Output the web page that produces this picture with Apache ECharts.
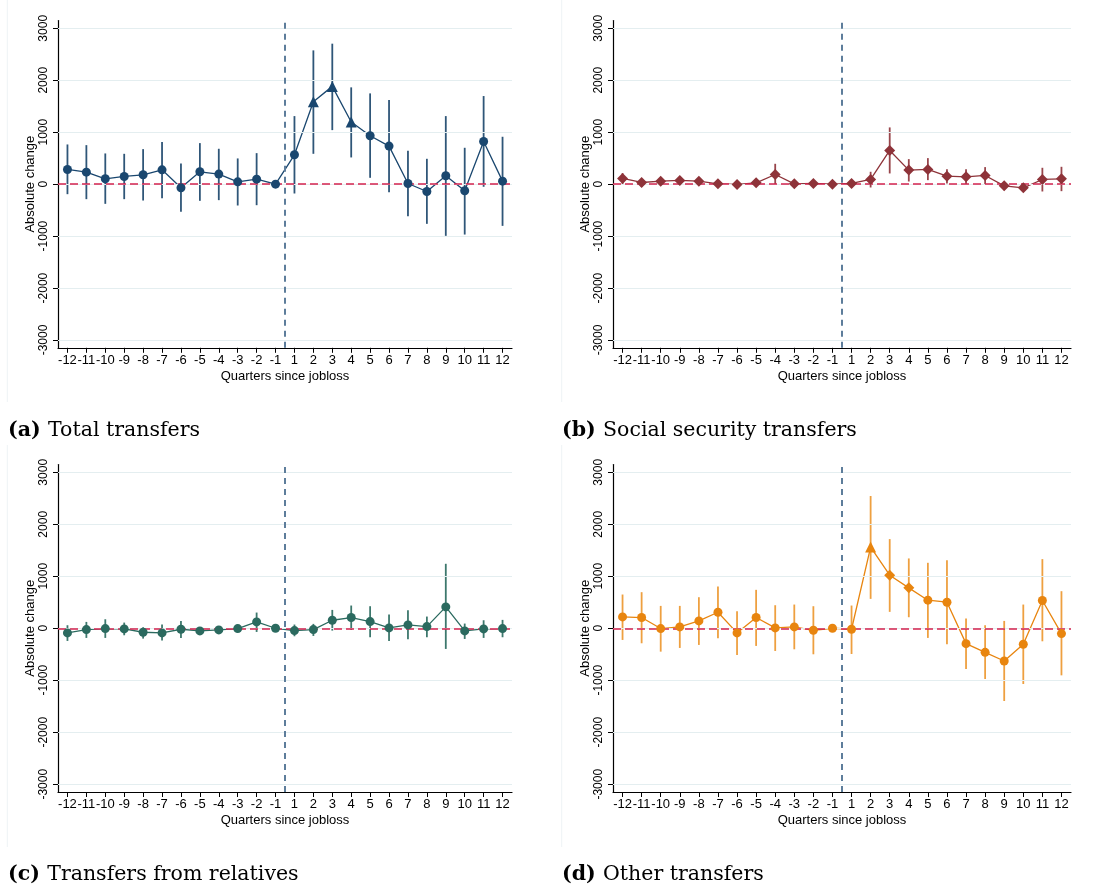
<!DOCTYPE html>
<html><head><meta charset="utf-8">
<script src="https://cdn.jsdelivr.net/npm/echarts@6/dist/echarts.min.js"></script>
<style>html,body{margin:0;padding:0;background:#fff}#c{width:1094px;height:889px}</style>
</head><body><div id="c"></div>
<script>
// ---- data ----
const quarters = ['-12','-11','-10','-9','-8','-7','-6','-5','-4','-3','-2','-1','1','2','3','4','5','6','7','8','9','10','11','12'];
const yTicks = [-3000,-2000,-1000,0,1000,2000,3000];

const estA = [283,231,103,148,180,276,-71,238,193,45,96,0,565,1586,1882,1195,931,732,13,-141,161,-128,822,58];
const loA  = [-193,-289,-379,-289,-315,-270,-533,-321,-308,-411,-405,null,-180,584,1040,514,122,-154,-617,-764,-995,-970,-51,-803];
const hiA  = [764,751,591,584,674,809,398,790,681,495,597,null,1310,2575,2704,1863,1747,1618,642,488,1310,700,1696,912];

const estB = [110,32,58,71,58,6,-6,26,186,6,13,0,13,90,649,270,283,154,141,167,-32,-71,90,103];
const loB  = [0,-51,-13,0,-19,-38,-64,-26,0,-38,-32,null,-64,-64,206,51,77,13,0,0,-116,-141,-141,-135];
const hiB  = [212,90,128,128,128,58,45,77,392,51,51,null,90,238,1092,482,501,289,289,328,39,0,315,334];

const estC = [-90,-26,-6,-13,-77,-90,-19,-51,-32,-6,122,0,-45,-26,154,206,128,6,64,32,411,-51,-13,-6];
const loC  = [-244,-186,-186,-135,-199,-238,-186,-116,-84,-71,-71,null,-154,-148,-45,-32,-173,-244,-212,-173,-398,-206,-186,-173];
const hiC  = [58,122,173,109,19,71,141,13,26,51,302,null,71,84,353,437,424,263,347,225,1240,90,154,161];

const estD = [218,206,-6,26,141,308,-90,206,6,26,-39,0,-19,1561,1021,777,540,501,-296,-463,-630,-308,533,-103];
const loD  = [-225,-289,-450,-379,-321,-193,-514,-340,-437,-405,-501,null,-495,565,315,212,-186,-308,-784,-976,-1400,-1073,-251,-906];
const hiD  = [649,694,430,430,597,803,328,739,443,456,424,null,437,2544,1715,1343,1259,1310,186,58,141,456,1330,713];

// marker shape per point
const C='circle', T='triangle', D='diamond';
const shapesA = [C,C,C,C,C,C,C,C,C,C,C,C,C,T,T,T,C,C,C,C,C,C,C,C];
const shapesB = quarters.map(() => D);
const shapesC = quarters.map(() => C);
const shapesD = [C,C,C,C,C,C,C,C,C,C,C,C,C,T,D,D,C,C,C,C,C,C,C,C];

const captionTags  = ['(a)','(b)','(c)','(d)'];
const captionTexts = ['Total transfers','Social security transfers','Transfers from relatives','Other transfers'];

// ---- layout / style ----
const panels = [
  {est:estA, lo:loA, hi:hiA, shapes:shapesA, color:'#1a476f', ci:'#2f5678', grid:{left:58, top:20.5, width:454, height:327.3}, cap:[8,432]},
  {est:estB, lo:loB, hi:hiB, shapes:shapesB, color:'#8e3339', ci:'#98454b', grid:{left:613, top:20.5, width:458, height:327.3}, cap:[562,432]},
  {est:estC, lo:loC, hi:hiC, shapes:shapesC, color:'#2b6a5f', ci:'#3d786d', grid:{left:58, top:464.5, width:454, height:327.5}, cap:[8,876]},
  {est:estD, lo:loD, hi:hiD, shapes:shapesD, color:'#e8850f', ci:'#eea040', grid:{left:613, top:464.5, width:458, height:327.5}, cap:[562,876]}
];
const idx = quarters.map((q,k)=>k);
const sans = 'Liberation Sans, Arial, sans-serif';
const symSize = {circle:9, triangle:11, diamond:11};

const grids=[], xAxes=[], yAxes=[], series=[], graphics=[];
panels.forEach((p,i)=>{
  grids.push(Object.assign({containLabel:false}, p.grid));
  xAxes.push({
    type:'value', gridIndex:i, min:-0.5, max:23.5,
    axisLine:{show:true, onZero:false, lineStyle:{color:'#000', width:1.2}},
    axisTick:{show:true, customValues:idx, length:5, lineStyle:{color:'#000', width:1}},
    axisLabel:{customValues:idx, formatter:v=>quarters[Math.round(v)], fontSize:13, color:'#000', margin:6, fontFamily:sans},
    splitLine:{show:false},
    name:'Quarters since jobloss', nameLocation:'middle', nameGap:22,
    nameTextStyle:{fontSize:13, color:'#000', fontFamily:sans}
  });
  yAxes.push({
    type:'value', gridIndex:i, min:-3150, max:3150,
    axisLine:{show:true, onZero:false, lineStyle:{color:'#000', width:1.2}},
    axisTick:{show:true, customValues:yTicks, length:5, lineStyle:{color:'#000', width:1}},
    axisLabel:{customValues:yTicks, formatter:v=>String(Math.round(v)), rotate:90, fontSize:12, color:'#000', margin:8, fontFamily:sans},
    splitLine:{show:false},
    name:'Absolute change', nameLocation:'middle', nameRotate:90, nameGap:21,
    nameTextStyle:{fontSize:13, color:'#000', fontFamily:sans}
  });
  // gridlines
  series.push({
    type:'line', xAxisIndex:i, yAxisIndex:i, data:[[0,0]], showSymbol:false, lineStyle:{opacity:0}, silent:true, z:1,
    markLine:{silent:true, symbol:'none', label:{show:false}, animation:false,
      lineStyle:{color:'#e4eef0', width:1.2, type:'solid'},
      data: yTicks.map(v=>({yAxis:v}))}
  });
  // reference lines
  series.push({
    type:'line', xAxisIndex:i, yAxisIndex:i, data:[[0,0]], showSymbol:false, lineStyle:{opacity:0}, silent:true, z:2,
    markLine:{silent:true, symbol:'none', label:{show:false}, animation:false,
      data:[
        {yAxis:0, lineStyle:{color:'#d4234f', width:1.5, type:[8,4]}},
        {xAxis:11.5, lineStyle:{color:'#5d7d9b', width:2, type:[6,5]}}
      ]}
  });
  // error bars
  const ciData = idx.filter(k=>p.lo[k]!=null).map(k=>[k, p.lo[k], p.hi[k]]);
  series.push({
    type:'custom', xAxisIndex:i, yAxisIndex:i, z:3, silent:true,
    encode:{x:0, y:[1,2]},
    data:ciData,
    renderItem:(params, api)=>{
      const a = api.coord([api.value(0), api.value(1)]);
      const b = api.coord([api.value(0), api.value(2)]);
      return {type:'line', shape:{x1:a[0], y1:a[1], x2:b[0], y2:b[1]}, style:{stroke:p.ci, lineWidth:1.8}};
    }
  });
  // connecting line
  series.push({
    type:'line', xAxisIndex:i, yAxisIndex:i, z:4, silent:true,
    data: idx.map(k=>[k, p.est[k]]), showSymbol:false,
    lineStyle:{color:p.color, width:1.3}
  });
  // markers
  series.push({
    type:'scatter', xAxisIndex:i, yAxisIndex:i, z:5, silent:true,
    data: idx.map(k=>({value:[k, p.est[k]], symbol:p.shapes[k], symbolSize:symSize[p.shapes[k]]})),
    itemStyle:{color:p.color, opacity:1}
  });
  // caption
  graphics.push({
    type:'text', left:p.cap[0], top:p.cap[1]-12,
    style:{
      text:'{b|'+captionTags[i]+'} {n|'+captionTexts[i]+'}',
      rich:{
        b:{fontFamily:'DejaVu Serif, serif', fontWeight:'bold', fontSize:20.5, fill:'#000', padding:[0,4,0,0]},
        n:{fontFamily:'DejaVu Serif, serif', fontSize:20.5, fill:'#000'}
      }
    }
  });
});
// faint frame lines of each sub-figure
[[7.3,0,402],[561.7,0,402],[7.3,445,847],[561.7,445,847]].forEach(l=>{
  graphics.push({type:'line', shape:{x1:l[0], y1:l[1], x2:l[0], y2:l[2]}, style:{stroke:'#eef3f5', lineWidth:1}, silent:true});
});

const chart = echarts.init(document.getElementById('c'), null, {renderer:'canvas'});
chart.setOption({
  animation:false,
  backgroundColor:'#fff',
  grid:grids, xAxis:xAxes, yAxis:yAxes, series:series, graphic:graphics
});
</script></body></html>
